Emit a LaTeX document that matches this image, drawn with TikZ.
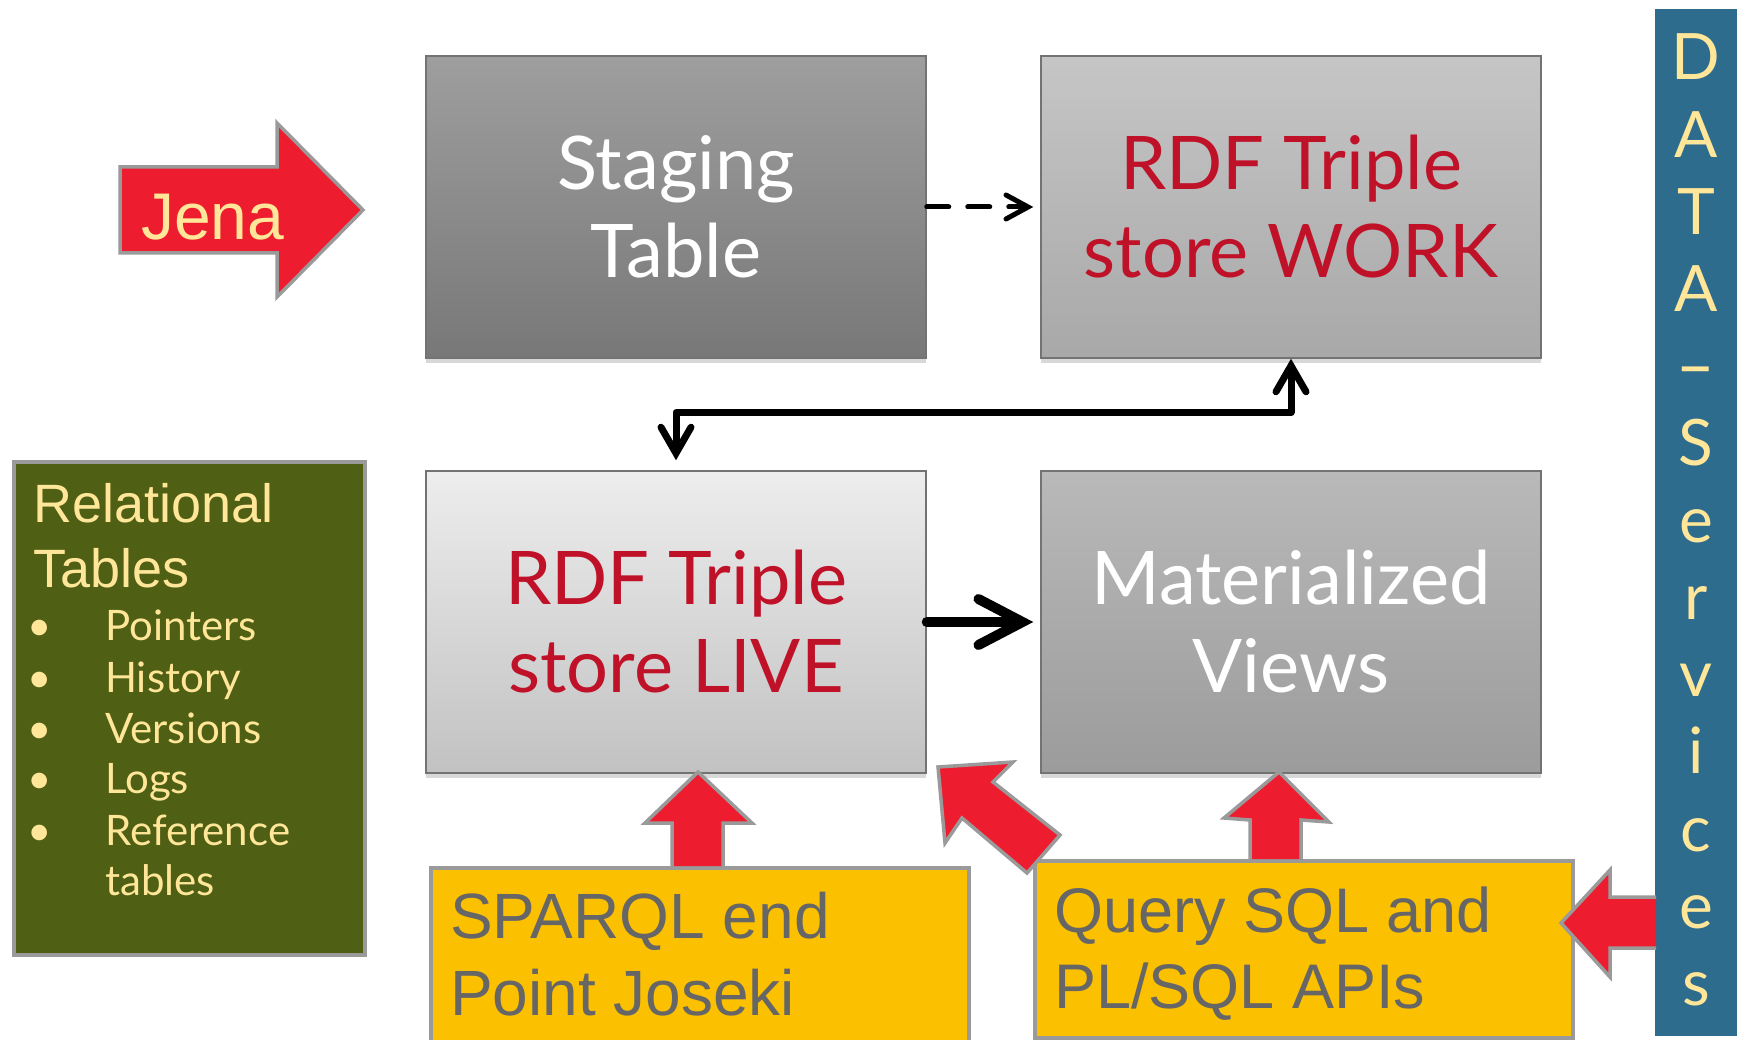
\documentclass[tikz,border=0pt]{standalone}
\usepackage{fontspec}
\setmainfont{Lato}
\newfontfamily\arialf{Liberation Sans}
\usetikzlibrary{arrows.meta,shadows,calc}
\definecolor{redA}{HTML}{EE1C2F}
\definecolor{edgeG}{HTML}{9A9A9A}
\definecolor{cream}{HTML}{FFE699}
\definecolor{oliveG}{HTML}{4F5F13}
\definecolor{goldY}{HTML}{FBC000}
\definecolor{textG}{HTML}{666666}
\definecolor{bandB}{HTML}{2D6C8D}
\definecolor{rdfR}{HTML}{BF1128}
\tikzset{
  graybox/.style={draw=black!55, line width=1.5, minimum width=500, minimum height=302,
    inner sep=0, align=center, font=\fontsize{74}{88}\selectfont,
    drop shadow={shadow xshift=0, shadow yshift=5, opacity=0.3}},
  yellowbox/.style={draw=edgeG, line width=3.5, fill=goldY, inner sep=0, anchor=north west},
  redarrow/.style={draw=edgeG, line width=3.5, fill=redA, line join=miter},
  bigtext/.style={font=\arialf\fontsize{64}{76}\selectfont, text=textG, anchor=base west, inner sep=0},
  reltext/.style={font=\arialf\fontsize{54}{64}\selectfont, text=cream, anchor=base west, inner sep=0},
  listtext/.style={font=\fontsize{42}{50}\selectfont, text=cream, anchor=base west, inner sep=0},
  bandletter/.style={font=\fontsize{64}{70}\selectfont, text=cream, anchor=base, inner sep=0},
  blackline/.style={draw=black, line cap=round, line join=round},
}
\begin{document}
\begin{tikzpicture}[x=1pt,y=-1pt]
\useasboundingbox (0,0) rectangle (1743,1040);
\fill[white] (0,0) rectangle (1743,1040);

% gray boxes
\node[graybox, top color=gray!76, bottom color=gray!94!black, text=white] (staging) at (676,207) {Staging\\Table};
\node[graybox, top color=gray!45, bottom color=gray!68, text=rdfR] (work) at (1291,207) {RDF Triple\\store WORK};
\node[graybox, top color=gray!14, bottom color=gray!48, text=rdfR] (live) at (676,622) {RDF Triple\\store LIVE};
\node[graybox, top color=gray!55, bottom color=gray!78, text=white] (mat) at (1291,622) {Materialized\\Views};

% connectors
\draw[blackline, line width=5, dash pattern=on 22 off 19, shorten >=7,
  -{Straight Barb[length=22,width=24,line cap=round]}] (staging.east) -- (work.west);
\draw[blackline, line width=7, shorten <=10,
  {Straight Barb[length=26,width=30,line cap=round]}-{Straight Barb[length=26,width=30,line cap=round]}]
  (live.north) -- ++(0,-58) -| (work.south);
\draw[blackline, line width=10, shorten >=7,
  -{Straight Barb[length=44,width=46,line cap=round]}] (live.east) -- (mat.west);

% Jena arrow
\draw[redarrow] (120,167) -- (277,167) -- (277,123) -- (363,210) -- (277,297) -- (277,253) -- (120,253) -- cycle;
\node[font=\arialf\fontsize{66}{70}\selectfont, text=cream, anchor=base west, inner sep=0] (jena) at (141,240) {Jena};

% Relational tables box
\node[draw=edgeG, line width=3.5, fill=oliveG, minimum width=351, minimum height=493, inner sep=0, anchor=north west] (rel) at (12,460) {};
\node[reltext] (relA) at (33,522) {Relational};
\node[reltext] (relB) at (33,587) {Tables};
\foreach \t/\yy [count=\i] in {Pointers/640, History/692, Versions/743, Logs/793, Reference/845} {
  \node[listtext, anchor=base] (bul\i) at (40,\yy) {\textbullet};
  \node[listtext] (item\i) at (105,\yy) {\t};
}
\node[listtext] (item6) at (105,895) {tables};

% yellow boxes
\node[yellowbox, minimum width=538, minimum height=200] (sparql) at (429,866) {};
\node[bigtext] (sp1) at (450,938) {SPARQL end};
\node[bigtext] (sp2) at (450,1015) {Point Joseki};

\node[yellowbox, minimum width=538, minimum height=177] (query) at (1033,859) {};
\node[bigtext, font=\arialf\fontsize{63}{76}\selectfont] (q1) at (1054,932) {Query SQL and};
\node[bigtext, font=\arialf\fontsize{63}{76}\selectfont] (q2) at (1054,1008) {PL/SQL APIs};

% red block arrows
\draw[redarrow] (672,866) -- (672,823) -- (645,823) -- (698,772) -- (752,823) -- (723,823) -- (723,866);
\draw[redarrow] (1250,859) -- (1250,820) -- (1224,818) -- (1279,772) -- (1329,822) -- (1301,820) -- (1301,859);
\draw[redarrow] (938,767) -- (1013,762) -- (993,782) -- (1060,835) -- (1027,873) -- (962,818) -- (945,843) -- cycle;

% DATA-Services band
\node[fill=bandB, minimum width=82, minimum height=1027, inner sep=0, anchor=north west] (band) at (1655,9) {};
\draw[redarrow] (1656,897) -- (1610,897) -- (1610,870) -- (1561,923) -- (1610,977) -- (1610,948) -- (1656,948);
\foreach \c [count=\i from 0] in {D,A,T,A,\scalebox{1.7}[1]{-},S,e,r,v,i,c,e,s} {
  \node[bandletter] (bl\i) at (1696,{80+77.1*\i}) {\c};
}
\end{tikzpicture}
\end{document}
